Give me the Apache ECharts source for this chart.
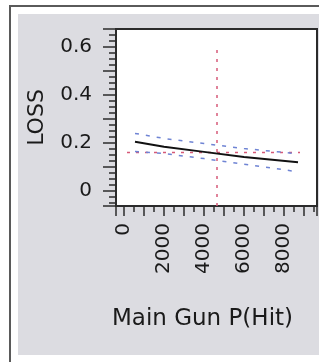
<!DOCTYPE html>
<html>
<head>
<meta charset="utf-8">
<script src="https://cdn.jsdelivr.net/npm/echarts@6/dist/echarts.min.js"></script>
<style>
  html, body { margin: 0; padding: 0; background: #fff; }
  #chart { width: 319px; height: 362px; }
</style>
</head>
<body>
<div id="chart"></div>
<script>
  // values
  let xVals = [550, 2000, 4000, 6000, 8700];
  let fitLoss = [0.205, 0.184, 0.163, 0.142, 0.12];
  let upperLoss = [0.24, 0.219, 0.198, 0.177, 0.155];
  let lowerLoss = [0.165, 0.156, 0.135, 0.112, 0.08];
  let refLoss = 0.16;            // horizontal reference
  let refX = [150, 8800];
  let refHit = 4650;             // vertical reference
  let refHitLoss = [-0.0625, 0.6];
  let xRange = [-400, 9650];
  let yRange = [-0.0625, 0.675];

  let chart = echarts.init(document.getElementById('chart'));

  let pairs = (xs, ys) => xs.map((x, i) => [x, ys[i]]);
  let font = 'DejaVu Sans';

  let option = {
    backgroundColor: '#fff',
    animation: false,
    graphic: [
      { type: 'rect', shape: { x: 10, y: 6, width: 320, height: 370 },
        style: { fill: '#fff', stroke: '#5a5a5a', lineWidth: 2 }, silent: true, z: -10 },
      { type: 'rect', shape: { x: 18, y: 14, width: 310, height: 341 },
        style: { fill: '#dcdce1' }, silent: true, z: -9 }
    ],
    grid: {
      left: 116,
      top: 29,
      right: 2,
      bottom: 156,
      show: true,
      backgroundColor: '#fff',
      borderColor: '#2b2b2b',
      borderWidth: 2
    },
    xAxis: {
      type: 'value',
      min: xRange[0],
      max: xRange[1],
      splitNumber: 10,
      name: 'Main Gun P(Hit)',
      nameLocation: 'middle',
      nameGap: 102,
      nameTextStyle: { fontFamily: font, fontSize: 23, color: '#1a1a1a', padding: [0, 28, 0, 0] },
      axisLine: { show: false, onZero: false },
      splitLine: { show: false },
      axisTick: { show: true, length: 10, lineStyle: { color: '#2b2b2b', width: 1.5 } },
      minorTick: { show: true, splitNumber: 2, length: 6, lineStyle: { color: '#2b2b2b', width: 1.5 } },
      axisLabel: {
        rotate: 90,
        margin: 17,
        fontFamily: font,
        fontSize: 20,
        color: '#1a1a1a',
        formatter: function (v) {
          if (v < 0 || Math.abs(v % 2000) > 1e-6) return '';
          return String(Math.round(v));
        }
      }
    },
    yAxis: {
      type: 'value',
      min: yRange[0],
      max: yRange[1],
      splitNumber: 7,
      name: 'LOSS',
      nameLocation: 'middle',
      nameGap: 68,
      nameTextStyle: { fontFamily: font, fontSize: 22, color: '#1a1a1a' },
      axisLine: { show: false, onZero: false },
      splitLine: { show: false },
      axisTick: { show: true, length: 13, lineStyle: { color: '#2b2b2b', width: 1.5 } },
      minorTick: { show: true, splitNumber: 4, length: 7, lineStyle: { color: '#2b2b2b', width: 1.5 } },
      axisLabel: {
        margin: 24,
        fontFamily: font,
        fontSize: 20,
        color: '#1a1a1a',
        formatter: function (v) {
          let r = Math.round(v * 10) / 10;
          if (Math.abs(v - r) > 1e-6) return '';
          if (Math.round(r * 10) % 2 !== 0) return '';
          return r === 0 ? '0' : r.toFixed(1);
        }
      }
    },
    series: [
      {
        type: 'line', silent: true, symbol: 'none',
        data: [[refX[0], refLoss], [refX[1], refLoss]],
        lineStyle: { color: '#d65a78', width: 1.5, type: [3, 6] }
      },
      {
        type: 'line', silent: true, symbol: 'none',
        data: [[refHit, refHitLoss[0]], [refHit, refHitLoss[1]]],
        lineStyle: { color: '#d65a78', width: 1.5, type: [3, 6] }
      },
      {
        type: 'line', silent: true, symbol: 'none',
        data: pairs(xVals, upperLoss),
        lineStyle: { color: '#6f84d4', width: 1.5, type: [4, 7] }
      },
      {
        type: 'line', silent: true, symbol: 'none',
        data: pairs(xVals, lowerLoss),
        lineStyle: { color: '#6f84d4', width: 1.5, type: [4, 7] }
      },
      {
        type: 'line', silent: true, symbol: 'none',
        data: pairs(xVals, fitLoss),
        lineStyle: { color: '#111', width: 2 }
      }
    ]
  };

  chart.setOption(option);
</script>
</body>
</html>
